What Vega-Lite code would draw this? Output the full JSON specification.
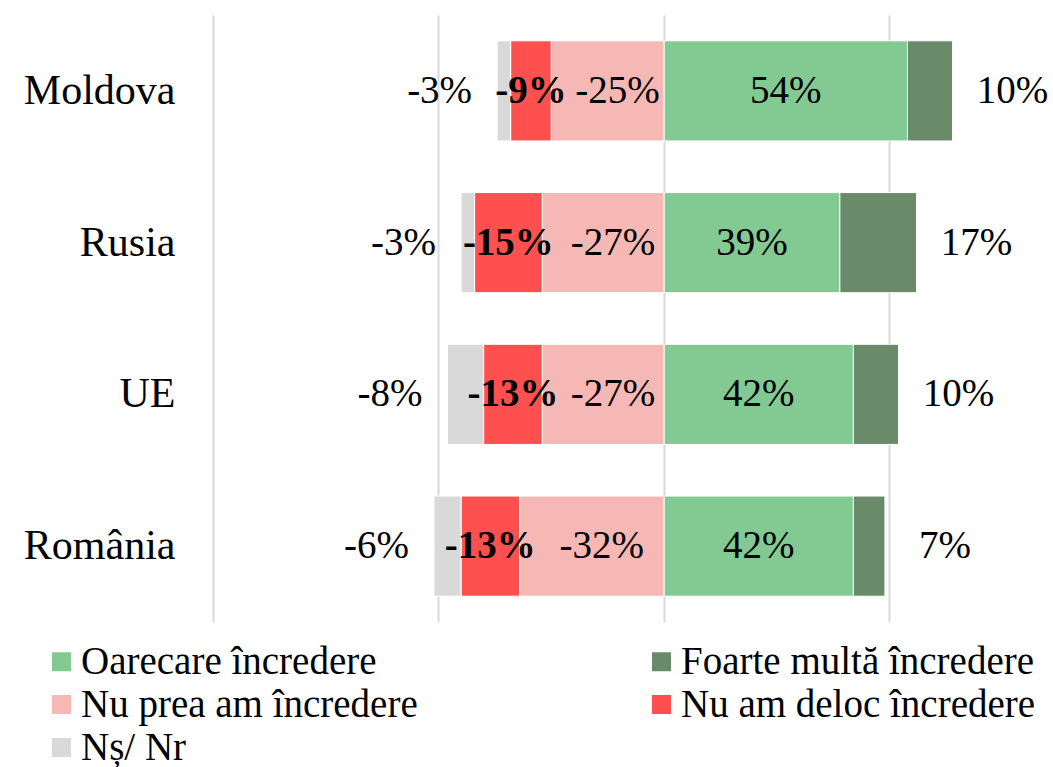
{
  "$schema": "https://vega.github.io/schema/vega-lite/v6.json",
  "width": 837,
  "height": 607,
  "autosize": {"type": "none"},
  "padding": {"left": 213, "top": 15, "right": 3, "bottom": 145},
  "background": "white",
  "config": {
    "view": {"stroke": null},
    "font": "Liberation Serif",
    "locale": {"number": {"decimal": ".", "thousands": ",", "grouping": [3], "currency": ["$", ""], "minus": "-"}}
  },
  "data": {
    "values": [
      {"country": "Moldova", "cat": "Oarecare încredere", "ord": 1, "v": 0.54},
      {"country": "Moldova", "cat": "Foarte multă încredere", "ord": 2, "v": 0.10},
      {"country": "Moldova", "cat": "Nu prea am încredere", "ord": 1, "v": -0.25},
      {"country": "Moldova", "cat": "Nu am deloc încredere", "ord": 2, "v": -0.09},
      {"country": "Moldova", "cat": "Nș/ Nr", "ord": 3, "v": -0.03},
      {"country": "Rusia", "cat": "Oarecare încredere", "ord": 1, "v": 0.39},
      {"country": "Rusia", "cat": "Foarte multă încredere", "ord": 2, "v": 0.17},
      {"country": "Rusia", "cat": "Nu prea am încredere", "ord": 1, "v": -0.27},
      {"country": "Rusia", "cat": "Nu am deloc încredere", "ord": 2, "v": -0.15},
      {"country": "Rusia", "cat": "Nș/ Nr", "ord": 3, "v": -0.03},
      {"country": "UE", "cat": "Oarecare încredere", "ord": 1, "v": 0.42},
      {"country": "UE", "cat": "Foarte multă încredere", "ord": 2, "v": 0.10},
      {"country": "UE", "cat": "Nu prea am încredere", "ord": 1, "v": -0.27},
      {"country": "UE", "cat": "Nu am deloc încredere", "ord": 2, "v": -0.13},
      {"country": "UE", "cat": "Nș/ Nr", "ord": 3, "v": -0.08},
      {"country": "România", "cat": "Oarecare încredere", "ord": 1, "v": 0.42},
      {"country": "România", "cat": "Foarte multă încredere", "ord": 2, "v": 0.07},
      {"country": "România", "cat": "Nu prea am încredere", "ord": 1, "v": -0.32},
      {"country": "România", "cat": "Nu am deloc încredere", "ord": 2, "v": -0.13},
      {"country": "România", "cat": "Nș/ Nr", "ord": 3, "v": -0.06}
    ]
  },
  "transform": [
    {"stack": "v", "groupby": ["country"], "sort": [{"field": "ord", "order": "ascending"}], "offset": "zero", "as": ["s0", "s1"]}
  ],
  "encoding": {
    "y": {
      "field": "country", "type": "nominal",
      "sort": ["Moldova", "Rusia", "UE", "România"],
      "scale": {"paddingInner": 0.34, "paddingOuter": 0.17},
      "axis": {"title": null, "ticks": false, "domain": false, "grid": false, "labelFont": "Liberation Serif", "labelFontSize": 42, "labelColor": "#000000", "labelPadding": 38, "labelLimit": 300}
    }
  },
  "layer": [
    {
      "mark": {"type": "bar", "stroke": "white", "strokeWidth": 1},
      "encoding": {
        "x": {
          "field": "s0", "type": "quantitative",
          "scale": {"domain": [-1, 0.856], "nice": false, "zero": false},
          "axis": {"title": null, "values": [-1, -0.5, 0, 0.5], "grid": true, "gridColor": "#D9D9D9", "gridWidth": 2, "labels": false, "ticks": false, "domain": false}
        },
        "x2": {"field": "s1"},
        "color": {
          "field": "cat", "type": "nominal",
          "scale": {
            "domain": ["Oarecare încredere", "Foarte multă încredere", "Nu prea am încredere", "Nu am deloc încredere", "Nș/ Nr"],
            "range": ["#83C992", "#6A8B6A", "#F5B8B5", "#FF5050", "#D9D9D9"]
          },
          "legend": {
            "title": null, "orient": "none", "legendX": -171, "legendY": 627,
            "direction": "horizontal", "columns": 2, "columnPadding": 224, "rowPadding": 3,
            "symbolType": "square", "symbolSize": 361, "symbolStrokeWidth": 0,
            "labelFont": "Liberation Serif", "labelFontSize": 39, "labelColor": "#000000", "labelOffset": 0, "labelLimit": 500
          }
        }
      }
    },
    {
      "transform": [
        {"filter": {"field": "cat", "equal": "Oarecare încredere"}},
        {"fold": ["s0", "s1"], "as": ["k", "pos"]},
        {"aggregate": [{"op": "mean", "field": "pos", "as": "mid"}], "groupby": ["country", "cat", "v"]}
      ],
      "mark": {"type": "text", "fontSize": 39, "color": "#000000", "baseline": "middle", "align": "center"},
      "encoding": {
        "x": {"field": "mid", "type": "quantitative"},
        "text": {"field": "v", "type": "quantitative", "format": ".0%"}
      }
    },
    {
      "transform": [
        {"filter": {"field": "cat", "equal": "Nu prea am încredere"}},
        {"fold": ["s0", "s1"], "as": ["k", "pos"]},
        {"aggregate": [{"op": "mean", "field": "pos", "as": "mid"}], "groupby": ["country", "cat", "v"]}
      ],
      "mark": {"type": "text", "fontSize": 39, "color": "#000000", "baseline": "middle", "align": "center", "dx": 10},
      "encoding": {
        "x": {"field": "mid", "type": "quantitative"},
        "text": {"field": "v", "type": "quantitative", "format": ".0%"}
      }
    },
    {
      "transform": [
        {"filter": {"field": "cat", "equal": "Nu am deloc încredere"}},
        {"fold": ["s0", "s1"], "as": ["k", "pos"]},
        {"aggregate": [{"op": "mean", "field": "pos", "as": "mid"}], "groupby": ["country", "cat", "v"]}
      ],
      "mark": {"type": "text", "fontSize": 39, "fontWeight": "bold", "color": "#000000", "baseline": "middle", "align": "center"},
      "encoding": {
        "x": {"field": "mid", "type": "quantitative"},
        "text": {"field": "v", "type": "quantitative", "format": ".0%"}
      }
    },
    {
      "transform": [{"filter": {"field": "cat", "equal": "Foarte multă încredere"}}],
      "mark": {"type": "text", "fontSize": 39, "color": "#000000", "baseline": "middle", "align": "center", "dx": 60},
      "encoding": {
        "x": {"field": "s1", "type": "quantitative"},
        "text": {"field": "v", "type": "quantitative", "format": ".0%"}
      }
    },
    {
      "transform": [{"filter": {"field": "cat", "equal": "Nș/ Nr"}}],
      "mark": {"type": "text", "fontSize": 39, "color": "#000000", "baseline": "middle", "align": "right", "dx": -25},
      "encoding": {
        "x": {"field": "s1", "type": "quantitative"},
        "text": {"field": "v", "type": "quantitative", "format": ".0%"}
      }
    }
  ]
}
